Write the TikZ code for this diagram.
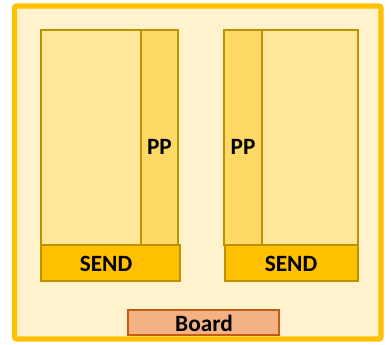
\documentclass[tikz,border=0pt]{standalone}
\usepackage{fontspec}
\setmainfont{Carlito}
\definecolor{boardbg}{HTML}{FFF2CC}
\definecolor{gold}{HTML}{FFC000}
\definecolor{darkgold}{HTML}{BF9000}
\definecolor{nodefill}{HTML}{FFE699}
\definecolor{ppfill}{HTML}{FFD966}
\definecolor{boardfill}{HTML}{F4B183}
\definecolor{boardline}{HTML}{C55A11}

\begin{document}
\begin{tikzpicture}[x=0.75pt, y=-0.75pt,
    lbl/.style={font=\fontsize{17.5}{20}\selectfont\bfseries, text=black},
    cell/.style={draw=darkgold, line width=1.6pt}]
    \useasboundingbox (0,0) rectangle (391,344);

    % board frame
    \draw[fill=boardbg, draw=gold, line width=3.8pt, rounded corners=1.5pt] (14.5,6) rectangle (381,339);

    % left node
    \draw[cell, fill=nodefill] (41,30) rectangle (141,245);
    \draw[cell, fill=ppfill] (141,30) rectangle (178,245);
    \node[lbl] (ppL) at (159.5,147) {PP};
    \draw[cell, fill=gold] (41,245) rectangle (180,281);
    \node[lbl] (sendL) at (106,263.5) {SEND};

    % right node
    \draw[cell, fill=nodefill] (262,30) rectangle (358,245);
    \draw[cell, fill=ppfill] (224,30) rectangle (262,245);
    \node[lbl] (ppR) at (243,147) {PP};
    \draw[cell, fill=gold] (225,245) rectangle (358,281);
    \node[lbl] (sendR) at (291,263.5) {SEND};

    %Board label
    \draw[fill=boardfill, draw=boardline, line width=1.6pt] (128,310) rectangle (279,335);
    \node[lbl] (board) at (204,323) {Board};
\end{tikzpicture}
\end{document}
